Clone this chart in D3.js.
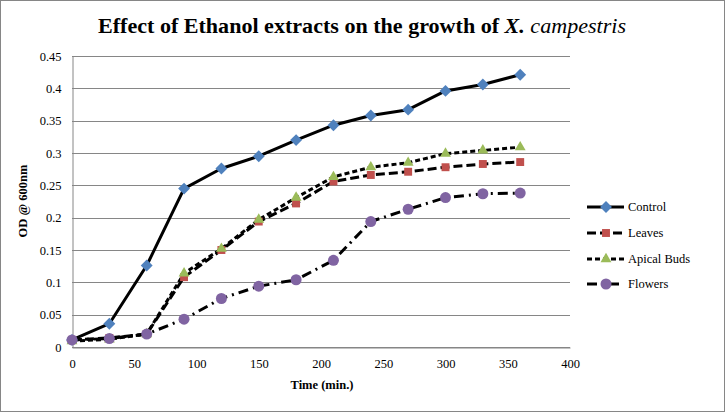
<!DOCTYPE html>
<html><head><meta charset="utf-8">
<script src="https://cdn.jsdelivr.net/npm/d3@7"></script>
<style>body{margin:0;background:#fff}svg{display:block}svg text{font-family:'Liberation Serif','Times New Roman',serif}</style>
</head><body>
<svg id="c" width="726" height="413"></svg>
<script>
const times = [0,30,60,90,120,150,180,210,240,270,300,330,360];
const control = [0.011,0.036,0.126,0.245,0.276,0.295,0.320,0.343,0.358,0.367,0.396,0.406,0.421];
const leaves = [0.011,0.014,0.020,0.108,0.150,0.194,0.222,0.256,0.266,0.271,0.278,0.283,0.286];
const apicalBuds = [0.009,0.012,0.020,0.114,0.152,0.197,0.231,0.263,0.278,0.285,0.299,0.304,0.309];
const flowers = [0.011,0.013,0.020,0.043,0.075,0.094,0.104,0.134,0.194,0.213,0.231,0.237,0.238];
const seriesNames = ["Control","Leaves","Apical Buds","Flowers"];
const xTicks = [0,50,100,150,200,250,300,350,400];
const yTicks = [0,0.05,0.1,0.15,0.2,0.25,0.3,0.35,0.4,0.45];

const svg = d3.select("#c");
const font = "'Liberation Serif','Times New Roman',serif";
svg.append("rect").attr("x",0.5).attr("y",0.5).attr("width",724).attr("height",411)
  .attr("fill","#fff").attr("stroke","#868686").attr("stroke-width",1);

const x = d3.scaleLinear().domain([0,400]).range([72,570]);
const y = d3.scaleLinear().domain([0,0.45]).range([347,56]);

svg.append("g").selectAll("line").data(yTicks).join("line")
  .attr("x1",x(0)).attr("x2",x(400)).attr("y1",d=>Math.round(y(d))+0.5).attr("y2",d=>Math.round(y(d))+0.5)
  .attr("stroke","#868686").attr("stroke-width",1);

const yAxis = svg.append("g").attr("transform",`translate(${x(0)+0.5},0)`)
  .call(d3.axisLeft(y).tickValues(yTicks).tickSize(0).tickPadding(11).tickFormat(d=>d3.format("")(+d.toFixed(2))));
const xAxis = svg.append("g").attr("transform",`translate(0,${Math.round(y(0))+0.5})`)
  .call(d3.axisBottom(x).tickValues(xTicks).tickSize(0).tickPadding(12));
[yAxis,xAxis].forEach(g=>{
  g.attr("font-family",font);
  g.select(".domain").attr("stroke","#868686");
  g.selectAll("text").style("font-family",font).attr("font-size",12.5).attr("fill","#000");
});
xAxis.selectAll("text").attr("dy","0.71em");

svg.append("text").attr("x",322).attr("y",389).attr("text-anchor","middle")
  .attr("font-weight","bold").attr("font-size",12.5).text("Time (min.)");
svg.append("text").attr("transform","translate(27,201) rotate(-90)").attr("text-anchor","middle")
  .attr("font-weight","bold").attr("font-size",12.5).text("OD @ 600nm");

const t = svg.append("text").attr("x",362).attr("y",33).attr("text-anchor","middle")
  .attr("font-weight","bold").attr("font-size",21)
  .attr("textLength",528).attr("lengthAdjust","spacingAndGlyphs");
t.append("tspan").text("Effect of Ethanol extracts on the growth of ");
t.append("tspan").attr("font-style","italic").text("X.");
t.append("tspan").attr("font-style","italic").attr("font-weight","normal").text(" campestris");

const series = [
  {name:seriesNames[0], vals:control, dash:null, color:"#4F81BD", sym:d3.symbolDiamond2, size:90},
  {name:seriesNames[1], vals:leaves, dash:"9,4", color:"#C0504D", sym:d3.symbolSquare2, size:80},
  {name:seriesNames[2], vals:apicalBuds, dash:"5,3", color:"#9BBB59", sym:d3.symbolTriangle2, size:85},
  {name:seriesNames[3], vals:flowers, dash:"10,5,2,5", color:"#8064A2", sym:d3.symbolCircle, size:95}
];

const line = d3.line().x(d=>x(d[0])).y(d=>y(d[1]));
series.forEach(s=>{
  const pts = times.map((t,i)=>[t,s.vals[i]]);
  svg.append("path").datum(pts).attr("d",line).attr("fill","none")
    .attr("stroke","#000").attr("stroke-width",3).attr("stroke-dasharray",s.dash)
    .attr("stroke-linejoin","round");
});
series.forEach(s=>{
  const pts = times.map((t,i)=>[t,s.vals[i]]);
  svg.append("g").selectAll("path").data(pts).join("path")
    .attr("transform",d=>`translate(${x(d[0])},${y(d[1])})`)
    .attr("d",d3.symbol().type(s.sym).size(s.size)).attr("fill",s.color);
});

const legY = [207,233,259,284];
series.forEach((s,i)=>{
  const g = svg.append("g").attr("transform",`translate(0,${legY[i]})`);
  g.append("line").attr("x1",587).attr("x2",624).attr("y1",0).attr("y2",0)
    .attr("stroke","#000").attr("stroke-width",3).attr("stroke-dasharray",s.dash);
  g.append("path").attr("transform","translate(606,0)")
    .attr("d",d3.symbol().type(s.sym).size(s.size)).attr("fill",s.color);
  g.append("text").attr("x",628).attr("y",0).attr("dy","0.35em")
    .attr("font-size",12.5).text(s.name);
});
</script>
</body></html>
